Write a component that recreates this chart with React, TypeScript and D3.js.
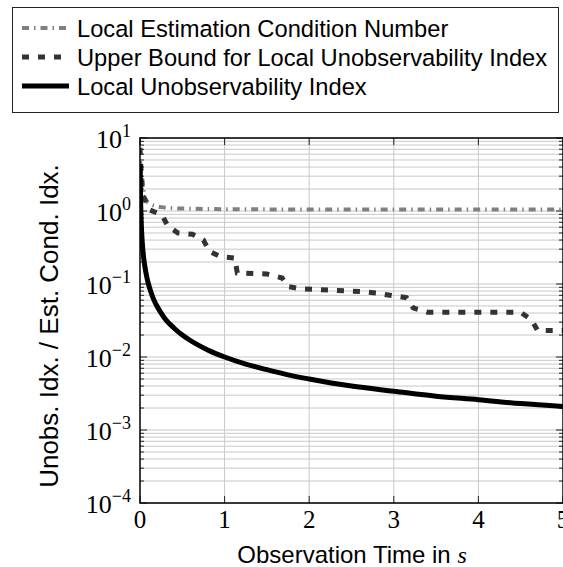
import React from "react";
import * as d3 from "d3";

const lowT = [0.002, 0.005, 0.008, 0.012, 0.02, 0.03, 0.045, 0.06, 0.08, 0.1, 0.13, 0.16, 0.2, 0.25, 0.3, 0.4, 0.5, 0.6, 0.7, 0.8, 1.0, 1.25, 1.5, 1.75, 2.0, 2.5, 3.0, 3.5, 4.0, 4.5, 5.0];
const lowV = [4.3, 2.0, 1.25, 0.83, 0.5, 0.33, 0.22, 0.167, 0.125, 0.1, 0.077, 0.062, 0.05, 0.04, 0.033, 0.025, 0.02, 0.0167, 0.0143, 0.0125, 0.01, 0.008, 0.0067, 0.0057, 0.005, 0.004, 0.0034, 0.0029, 0.0026, 0.0023, 0.0021];

const ubT = [0.0, 0.01, 0.03, 0.12, 0.26, 0.33, 0.45, 0.62, 0.75, 0.82, 0.95, 1.12, 1.15, 1.5, 1.68, 1.75, 1.91, 2.6, 2.8, 2.99, 3.15, 3.23, 3.4, 4.5, 4.63, 4.7, 5.0];
const ubV = [7.3, 4.0, 1.66, 1.03, 0.88, 0.62, 0.5, 0.48, 0.4, 0.28, 0.237, 0.227, 0.142, 0.137, 0.121, 0.092, 0.086, 0.079, 0.075, 0.069, 0.065, 0.047, 0.041, 0.041, 0.032, 0.023, 0.023];

const ecT = [0.0, 0.01, 0.02, 0.05, 0.1, 0.25, 0.5, 1.0, 2.0, 3.0, 4.0, 5.0];
const ecV = [5.0, 3.6, 3.1, 1.65, 1.29, 1.13, 1.08, 1.06, 1.05, 1.05, 1.05, 1.05];

const xTicks = [0, 1, 2, 3, 4, 5];
const yExps = [1, 0, -1, -2, -3, -4];

const legendLabels = [
  "Local Estimation Condition Number",
  "Upper Bound for Local Unobservability Index",
  "Local Unobservability Index",
];

const W = 563, H = 567;
const L = 140, R = 563, T = 138, B = 503;

export default function App() {
  const x = d3.scaleLinear().domain([0, 5]).range([L, R]);
  const y = d3.scaleLog().domain([1e-4, 10]).range([B, T]);
  const line = d3.line<[number, number]>().x(d => x(d[0])).y(d => y(d[1]));
  const curve = d3.line<[number, number]>().x(d => x(d[0])).y(d => y(d[1])).curve(d3.curveMonotoneX);

  const minor: number[] = [];
  for (let e = -4; e < 1; e++) for (let m = 2; m <= 9; m++) minor.push(m * Math.pow(10, e));
  const major = yExps.map(e => Math.pow(10, e));

  const lowData = lowT.map((t, i) => [t, lowV[i]] as [number, number]);
  const ubData = ubT.map((t, i) => [t, ubV[i]] as [number, number]);
  const ecData = ecT.map((t, i) => [t, ecV[i]] as [number, number]);

  const sans = "'Liberation Sans', Arial, sans-serif";
  const serif = "'Liberation Serif', 'DejaVu Serif', serif";
  const grid = "#c8c8c8";

  const styles = [
    { stroke: "#808080", width: 4, dash: "7 5 1.5 5" },
    { stroke: "#333333", width: 5, dash: "7 9" },
    { stroke: "#000000", width: 5, dash: "" },
  ];
  const legY = [28, 57, 86];

  return (
    <svg width={W} height={H} style={{ position: "absolute", left: 0, top: 0 }}>
      <rect x={0} y={0} width={W} height={H} fill="#fff" />
      <defs>
        <clipPath id="plot">
          <rect x={L} y={T} width={R - L} height={B - T} />
        </clipPath>
      </defs>
      {/* legend */}
      <rect x={12.5} y={7.5} width={546} height={105} fill="#fff" stroke="#222" strokeWidth={1} />
      {legendLabels.map((lab, i) => (
        <g key={lab}>
          <line x1={22} x2={69} y1={legY[i]} y2={legY[i]} stroke={styles[i].stroke} strokeWidth={styles[i].width}
            strokeDasharray={styles[i].dash || undefined} />
          <text x={77} y={legY[i]} dy="0.36em" fontFamily={sans} fontSize={23.7} fill="#000">{lab}</text>
        </g>
      ))}
      {/* grid */}
      {minor.map(v => (
        <line key={"mn" + v} x1={L} x2={R} y1={y(v)} y2={y(v)} stroke={grid} strokeWidth={1} />
      ))}
      {major.map(v => (
        <line key={"mj" + v} x1={L} x2={R} y1={y(v)} y2={y(v)} stroke={grid} strokeWidth={1} />
      ))}
      {xTicks.slice(1, -1).map(t => (
        <line key={"vx" + t} x1={x(t)} x2={x(t)} y1={T} y2={B} stroke={grid} strokeWidth={1} />
      ))}
      {/* ticks */}
      {minor.map(v => (
        <g key={"mt" + v}>
          <line x1={L} x2={L + 4} y1={y(v)} y2={y(v)} stroke="#222" strokeWidth={1} />
          <line x1={R - 4} x2={R} y1={y(v)} y2={y(v)} stroke="#222" strokeWidth={1} />
        </g>
      ))}
      {major.map(v => (
        <g key={"Mt" + v}>
          <line x1={L} x2={L + 7} y1={y(v)} y2={y(v)} stroke="#222" strokeWidth={1} />
          <line x1={R - 7} x2={R} y1={y(v)} y2={y(v)} stroke="#222" strokeWidth={1} />
        </g>
      ))}
      {xTicks.map(t => (
        <g key={"xt" + t}>
          <line x1={x(t)} x2={x(t)} y1={B} y2={B - 7} stroke="#222" strokeWidth={1} />
          <line x1={x(t)} x2={x(t)} y1={T} y2={T + 7} stroke="#222" strokeWidth={1} />
        </g>
      ))}
      {/* series */}
      <g clipPath="url(#plot)">
        <path d={curve(ecData) || ""} fill="none" stroke={styles[0].stroke} strokeWidth={styles[0].width} strokeDasharray={styles[0].dash} />
        <path d={line(ubData) || ""} fill="none" stroke={styles[1].stroke} strokeWidth={styles[1].width} strokeDasharray={styles[1].dash} />
        <path d={curve(lowData) || ""} fill="none" stroke={styles[2].stroke} strokeWidth={styles[2].width} strokeLinejoin="round" />
      </g>
      {/* axis frame */}
      <rect x={L} y={T} width={R - L} height={B - T} fill="none" stroke="#000" strokeWidth={1.5} />
      {/* tick labels */}
      {xTicks.map(t => (
        <text key={"xl" + t} x={x(t)} y={B + 25} textAnchor="middle" fontFamily={serif} fontSize={25}>{t}</text>
      ))}
      {yExps.map(e => (
        <text key={"yl" + e} x={131} y={y(Math.pow(10, e)) + 10} textAnchor="end" fontFamily={serif} fontSize={26}>
          10<tspan dy={-11} fontSize={18}>{e < 0 ? "\u2212" + Math.abs(e) : e}</tspan>
        </text>
      ))}
      {/* axis labels */}
      <text x={352} y={563} textAnchor="middle" fontFamily={sans} fontSize={24}>
        Observation Time in <tspan fontFamily={serif} fontStyle="italic">s</tspan>
      </text>
      <text transform={`translate(${58},${326}) rotate(-90)`} textAnchor="middle" fontFamily={sans} fontSize={26}>
        Unobs. Idx. / Est. Cond. Idx.
      </text>
    </svg>
  );
}
